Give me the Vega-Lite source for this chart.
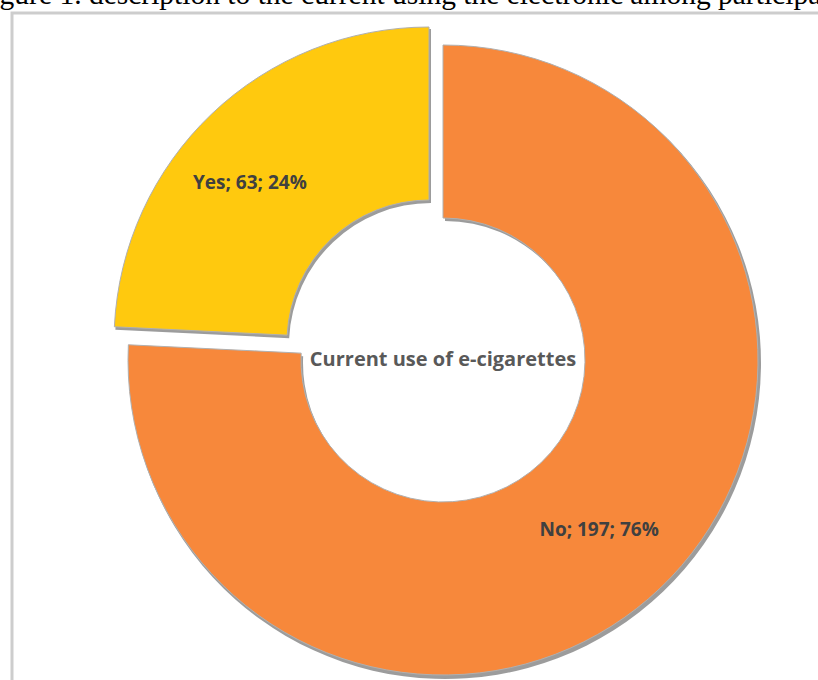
{
  "$schema": "https://vega.github.io/schema/vega-lite/v6.json",
  "width": 862,
  "height": 694,
  "autosize": {"type": "none"},
  "padding": {"left": 12, "top": 13, "right": 0, "bottom": 0},
  "view": {"stroke": "#cdcdcd", "strokeWidth": 3},
  "title": {
    "text": "Figure 1. description to the current using the electronic among participants",
    "anchor": "start",
    "frame": "group",
    "dx": -37,
    "offset": 3,
    "font": "Liberation Serif",
    "fontSize": 29.5,
    "fontWeight": "normal",
    "color": "#000000"
  },
  "data": {
    "values": [
      {"category": "No", "count": 197, "label": "No; 197; 76%"},
      {"category": "Yes", "count": 63, "label": "Yes; 63; 24%"}
    ]
  },
  "layer": [
    {
      "mark": {"type": "arc", "radius": 316, "radius2": 142, "x": {"expr": "width/2+2"}, "y": {"expr": "height/2+3"}},
      "encoding": {
        "theta": {"field": "count", "type": "quantitative", "stack": true},
        "detail": {"field": "category"},
        "color": {"value": "#5a5a5a"},
        "opacity": {"condition": {"test": "datum.category === 'No'", "value": 0.6}, "value": 0}
      }
    },
    {
      "mark": {"type": "arc", "radius": 316, "radius2": 142, "x": {"expr": "width/2-12"}, "y": {"expr": "height/2-15"}},
      "encoding": {
        "theta": {"field": "count", "type": "quantitative", "stack": true},
        "detail": {"field": "category"},
        "color": {"value": "#5a5a5a"},
        "opacity": {"condition": {"test": "datum.category === 'Yes'", "value": 0.6}, "value": 0}
      }
    },
    {
      "mark": {"type": "arc", "radius": 315, "radius2": 142, "stroke": "#b0b0b0", "strokeWidth": 1},
      "encoding": {
        "theta": {"field": "count", "type": "quantitative", "stack": true},
        "color": {"field": "category", "type": "nominal", "scale": {"domain": ["No", "Yes"], "range": ["#F7883B", "#FFC90E"]}, "legend": null},
        "opacity": {"condition": {"test": "datum.category === 'No'", "value": 1}, "value": 0}
      }
    },
    {
      "mark": {"type": "arc", "radius": 315, "radius2": 142, "stroke": "#b0b0b0", "strokeWidth": 1, "x": {"expr": "width/2-14"}, "y": {"expr": "height/2-18"}},
      "encoding": {
        "theta": {"field": "count", "type": "quantitative", "stack": true},
        "color": {"field": "category", "type": "nominal", "scale": {"domain": ["No", "Yes"], "range": ["#F7883B", "#FFC90E"]}, "legend": null},
        "opacity": {"condition": {"test": "datum.category === 'Yes'", "value": 1}, "value": 0}
      }
    },
    {
      "mark": {"type": "text", "radius": 235, "font": "Open Sans", "fontSize": 19, "fontWeight": "bold", "color": "#404040", "baseline": "middle", "align": "center", "dx": -6},
      "encoding": {
        "theta": {"field": "count", "type": "quantitative", "stack": true},
        "detail": {"field": "category"},
        "text": {"field": "label"},
        "opacity": {"condition": {"test": "datum.category === 'No'", "value": 1}, "value": 0}
      }
    },
    {
      "mark": {"type": "text", "radius": 235, "font": "Open Sans", "fontSize": 19, "fontWeight": "bold", "color": "#404040", "baseline": "middle", "align": "center", "x": {"expr": "width/2-14"}, "y": {"expr": "height/2-18"}, "dx": -17, "dy": 11},
      "encoding": {
        "theta": {"field": "count", "type": "quantitative", "stack": true},
        "detail": {"field": "category"},
        "text": {"field": "label"},
        "opacity": {"condition": {"test": "datum.category === 'Yes'", "value": 1}, "value": 0}
      }
    },
    {
      "data": {"values": [{"caption": "Current use of e-cigarettes"}]},
      "mark": {"type": "text", "font": "Open Sans", "fontSize": 20, "fontWeight": "bold", "color": "#595959", "baseline": "middle", "align": "center"},
      "encoding": {"text": {"field": "caption"}}
    }
  ]
}
